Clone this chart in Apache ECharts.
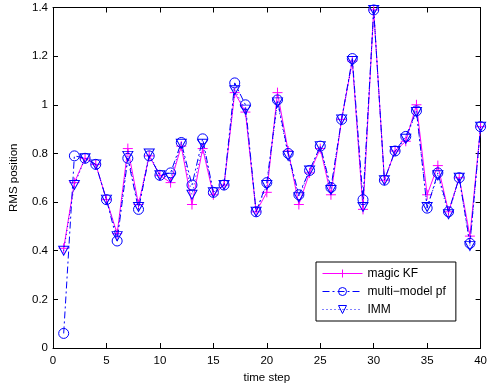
<!DOCTYPE html>
<html>
<head>
<meta charset="utf-8">
<script src="https://cdn.jsdelivr.net/npm/echarts@6/dist/echarts.min.js"></script>
<style>html,body{margin:0;padding:0;background:#fff}#c{width:490px;height:390px}</style>
</head>
<body>
<div id="c"></div>
<script>
var timeSteps = [1,2,3,4,5,6,7,8,9,10,11,12,13,14,15,16,17,18,19,20,21,22,23,24,25,26,27,28,29,30,31,32,33,34,35,36,37,38,39,40];
var magicKF = [0.41,0.68,0.78,0.755,0.61,0.47,0.82,0.59,0.79,0.71,0.68,0.83,0.59,0.82,0.63,0.67,1.05,0.97,0.56,0.64,1.05,0.81,0.59,0.72,0.82,0.63,0.94,1.18,0.57,1.39,0.69,0.81,0.85,1.00,0.63,0.75,0.56,0.70,0.46,0.91];
var multiModelPF = [0.06,0.79,0.78,0.755,0.61,0.44,0.78,0.57,0.79,0.71,0.72,0.845,0.67,0.86,0.64,0.67,1.09,1.00,0.56,0.68,1.02,0.80,0.63,0.73,0.83,0.66,0.94,1.19,0.61,1.39,0.69,0.81,0.87,0.975,0.575,0.72,0.56,0.70,0.43,0.91];
var imm = [0.40,0.67,0.78,0.755,0.61,0.46,0.79,0.58,0.80,0.71,0.70,0.84,0.63,0.84,0.64,0.67,1.06,0.98,0.56,0.67,1.01,0.79,0.62,0.73,0.83,0.65,0.94,1.18,0.58,1.39,0.69,0.81,0.86,0.97,0.58,0.71,0.55,0.70,0.42,0.91];
var seriesNames = ['magic KF','multi\u2212model pf','IMM'];
var xTicks = {min:0, max:40, interval:5};
var yTicks = {min:0, max:1.4, interval:0.2};

function pairs(vals){ return timeSteps.map(function(t,i){ return [t, vals[i]]; }); }

var FONT = 'Liberation Sans';
var chart = echarts.init(document.getElementById('c'), null, {renderer:'canvas'});
var axisCommon = {
  axisLine:{show:true, onZero:false, lineStyle:{color:'#000', width:1}},
  axisTick:{show:true, inside:true, length:5, lineStyle:{color:'#000'}},
  splitLine:{show:false}
};
var plus = 'path://M5,0 L5,10 M0,5 L10,5';
var tri = 'path://M0,0 L10,0 L5,9 Z';
chart.setOption({
  animation:false,
  backgroundColor:'#fff',
  grid:{left:51.5, right:6, top:7.5, bottom:42, containLabel:false},
  legend:{
    show:true, orient:'vertical', left:316, top:262, width:120,
    padding:[5,10,5,6], itemGap:5, itemWidth:40, itemHeight:10,
    backgroundColor:'#fff', borderColor:'#000', borderWidth:1, borderRadius:0,
    textStyle:{fontFamily:FONT, fontSize:12, color:'#000'},
    itemStyle:{borderWidth:1},
    lineStyle:{width:1},
    data:[
      {name:seriesNames[0], itemStyle:{color:'none', borderColor:'#ff00ff', borderWidth:1}, lineStyle:{color:'#ff00ff', width:1}},
      {name:seriesNames[1], itemStyle:{color:'none', borderColor:'#0000ff', borderWidth:1}, lineStyle:{color:'#0000ff', width:1}},
      {name:seriesNames[2], itemStyle:{color:'none', borderColor:'#0000ff', borderWidth:1}, lineStyle:{color:'#0000ff', width:1}}
    ]
  },
  xAxis:[
    Object.assign({type:'value', position:'bottom', min:xTicks.min, max:xTicks.max, interval:xTicks.interval,
      name:'time step', nameLocation:'middle', nameGap:23,
      nameTextStyle:{fontFamily:FONT, fontSize:11.5, color:'#000'},
      axisLabel:{fontFamily:FONT, fontSize:11.5, color:'#000', margin:7}}, axisCommon),
    Object.assign({type:'value', position:'top', min:xTicks.min, max:xTicks.max, interval:xTicks.interval,
      axisLabel:{show:false}}, axisCommon)
  ],
  yAxis:[
    Object.assign({type:'value', position:'left', min:yTicks.min, max:yTicks.max, interval:yTicks.interval,
      name:'RMS position', nameLocation:'middle', nameGap:33, nameRotate:90,
      nameTextStyle:{fontFamily:FONT, fontSize:11.5, color:'#000'},
      axisLabel:{fontFamily:FONT, fontSize:11.5, color:'#000', margin:5,
        formatter:function(v){ return String(+v.toFixed(1)); }}}, axisCommon),
    Object.assign({type:'value', position:'right', min:yTicks.min, max:yTicks.max, interval:yTicks.interval,
      axisLabel:{show:false}}, axisCommon)
  ],
  series:[
    {name:seriesNames[0], type:'line', data:pairs(magicKF), symbol:plus, symbolSize:10, showAllSymbol:true,
      lineStyle:{color:'#ff00ff', width:1}, itemStyle:{color:'none', borderColor:'#ff00ff', borderWidth:1}, z:2},
    {name:seriesNames[1], type:'line', data:pairs(multiModelPF), symbol:'circle', symbolSize:10, showAllSymbol:true,
      lineStyle:{color:'#0000ff', width:1, type:[7,3,2,3]}, itemStyle:{color:'none', borderColor:'#0000ff', borderWidth:1}, z:3},
    {name:seriesNames[2], type:'line', data:pairs(imm), symbol:tri, symbolSize:[10,9], showAllSymbol:true,
      lineStyle:{color:'#0000ff', width:1, type:[1,3]}, itemStyle:{color:'none', borderColor:'#0000ff', borderWidth:1}, z:4}
  ]
});
</script>
</body>
</html>
